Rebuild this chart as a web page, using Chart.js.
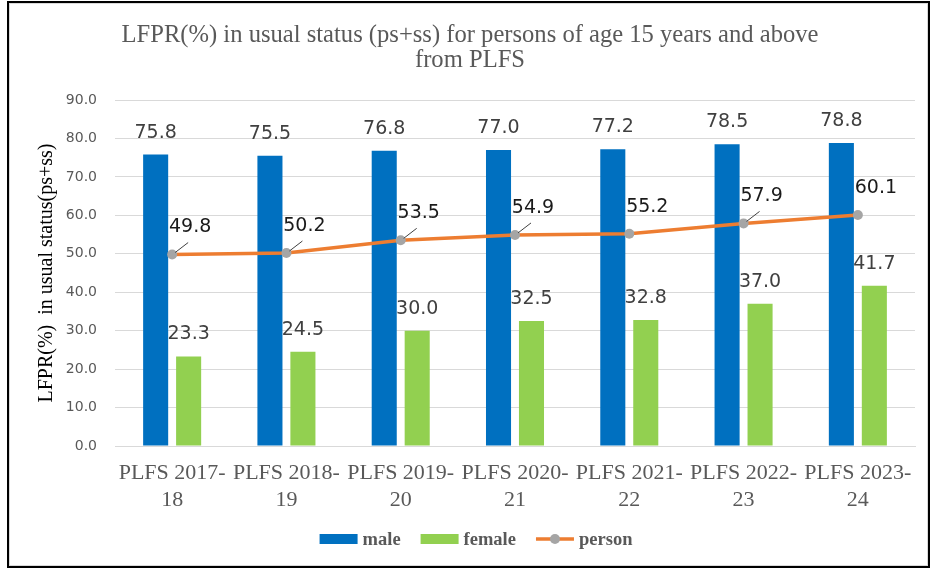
<!DOCTYPE html>
<html lang="en">
<head>
    <meta charset="UTF-8">
    <title>LFPR in usual status - PLFS</title>
    <style>
        body {
            margin: 0;
            background-color: #fff;
        }
        .wrap {
            position: relative;
            width: 933px;
            height: 570px;
        }
        .wrap canvas {
            position: absolute;
            left: 0;
            top: 0;
        }
        .frame {
            position: absolute;
            left: 7px;
            top: 1px;
            width: 923px;
            height: 567px;
            border: 2px solid #000;
            box-sizing: border-box;
            box-shadow: inset 0 0 0 1px #d9d9d9;
            pointer-events: none;
        }
    </style>
    <script src="https://cdn.jsdelivr.net/npm/chart.js"></script>
</head>
<body>
    <div class="wrap">
        <canvas id="lfprChart" width="933" height="570"></canvas>
        <div class="frame"></div>
    </div>

    <script>
        // Survey rounds (two-line tick labels)
        const categories = [
            ['PLFS 2017-', '18'],
            ['PLFS 2018-', '19'],
            ['PLFS 2019-', '20'],
            ['PLFS 2020-', '21'],
            ['PLFS 2021-', '22'],
            ['PLFS 2022-', '23'],
            ['PLFS 2023-', '24']
        ];
        const maleValues   = [75.8, 75.5, 76.8, 77.0, 77.2, 78.5, 78.8];
        const femaleValues = [23.3, 24.5, 30.0, 32.5, 32.8, 37.0, 41.7];
        const personValues = [49.8, 50.2, 53.5, 54.9, 55.2, 57.9, 60.1];

        const yMin = 0;
        const yMax = 90;
        const yStep = 10;

        const titleLines = [
            'LFPR(%) in usual status (ps+ss) for persons of age 15 years and above',
            'from PLFS'
        ];
        const yTitle = 'LFPR(%)  in usual status(ps+ss)';

        // person labels that have a small leader line in the original
        const leaderIdx = [0, 1, 2, 3, 5];

        const valueLabels = {
            id: 'valueLabels',
            afterDatasetsDraw(chart) {
                const ctx = chart.ctx;
                ctx.save();
                ctx.font = '19px "DejaVu Sans"';
                ctx.textAlign = 'center';
                ctx.textBaseline = 'middle';
                chart.data.datasets.forEach((ds, i) => {
                    const meta = chart.getDatasetMeta(i);
                    meta.data.forEach((el, j) => {
                        const txt = ds.data[j].toFixed(1);
                        if (ds.type === 'line') {
                            if (leaderIdx.includes(j)) {
                                ctx.strokeStyle = '#404040';
                                ctx.lineWidth = 1;
                                ctx.beginPath();
                                ctx.moveTo(el.x + 3, el.y - 2);
                                ctx.lineTo(el.x + 16, el.y - 12);
                                ctx.stroke();
                            }
                            ctx.fillStyle = '#1a1a1a';
                            ctx.fillText(txt, el.x + 18, el.y - 27);
                        } else {
                            ctx.fillStyle = '#404040';
                            ctx.fillText(txt, el.x, el.y - 22);
                        }
                    });
                });
                ctx.restore();
            }
        };

        // legend drawn by hand so the line item can show its marker
        const bottomLegend = {
            id: 'bottomLegend',
            afterDraw(chart) {
                const ctx = chart.ctx;
                const y = 539;
                const sym = 38, gap = 5, itemGap = 20;
                ctx.save();
                ctx.font = 'bold 18.5px "Liberation Serif"';
                ctx.textBaseline = 'middle';
                const items = chart.data.datasets.map(ds => ({
                    ds: ds,
                    w: sym + gap + ctx.measureText(ds.label).width
                }));
                const total = items.reduce((s, it) => s + it.w, 0) + itemGap * (items.length - 1);
                let x = 476 - total / 2;
                items.forEach(it => {
                    const ds = it.ds;
                    if (ds.type === 'line') {
                        ctx.strokeStyle = ds.borderColor;
                        ctx.lineWidth = 3.5;
                        ctx.beginPath();
                        ctx.moveTo(x, y);
                        ctx.lineTo(x + sym, y);
                        ctx.stroke();
                        ctx.fillStyle = ds.pointBackgroundColor;
                        ctx.beginPath();
                        ctx.arc(x + sym / 2, y, 5, 0, Math.PI * 2);
                        ctx.fill();
                    } else {
                        ctx.fillStyle = ds.backgroundColor;
                        ctx.fillRect(x, y - 5, sym, 10);
                    }
                    ctx.fillStyle = '#595959';
                    ctx.fillText(ds.label, x + sym + gap, y + 1);
                    x += it.w + itemGap;
                });
                ctx.restore();
            }
        };

        const ctx = document.getElementById('lfprChart').getContext('2d');
        new Chart(ctx, {
            type: 'bar',
            data: {
                labels: categories,
                datasets: [
                    {
                        label: 'male',
                        data: maleValues,
                        backgroundColor: '#0070C0',
                        categoryPercentage: 0.577,
                        barPercentage: 0.76,
                        order: 1
                    },
                    {
                        label: 'female',
                        data: femaleValues,
                        backgroundColor: '#92D050',
                        categoryPercentage: 0.577,
                        barPercentage: 0.76,
                        order: 1
                    },
                    {
                        type: 'line',
                        label: 'person',
                        data: personValues,
                        borderColor: '#ED7D31',
                        borderWidth: 3.5,
                        pointRadius: 5,
                        pointBackgroundColor: '#A5A5A5',
                        pointBorderColor: '#A5A5A5',
                        pointBorderWidth: 0,
                        tension: 0,
                        order: -1
                    }
                ]
            },
            options: {
                responsive: false,
                animation: false,
                layout: {
                    padding: { left: 25, right: 18, top: 0, bottom: 0 }
                },
                plugins: {
                    legend: { display: false },
                    tooltip: { enabled: false },
                    title: {
                        display: true,
                        text: titleLines,
                        color: '#595959',
                        font: { family: 'Liberation Serif', size: 24.6, weight: 'normal', lineHeight: 25 / 24.6 },
                        padding: { top: 23.5, bottom: 26.5 }
                    }
                },
                scales: {
                    x: {
                        grid: { display: false },
                        border: { color: '#d9d9d9' },
                        ticks: {
                            color: '#595959',
                            font: { family: 'Liberation Serif', size: 22, lineHeight: 27 / 22 },
                            padding: 6,
                            maxRotation: 0,
                            autoSkip: false
                        },
                        afterFit(scale) { scale.height = 124; }
                    },
                    y: {
                        min: yMin,
                        max: yMax,
                        ticks: {
                            stepSize: yStep,
                            callback: v => v.toFixed(1),
                            color: '#595959',
                            font: { family: 'DejaVu Sans', size: 14 },
                            padding: 18
                        },
                        grid: { color: '#d9d9d9', drawTicks: false },
                        border: { display: false },
                        title: {
                            display: true,
                            text: yTitle,
                            color: '#000',
                            font: { family: 'Liberation Serif', size: 20 },
                            padding: { top: 10, bottom: 0 }
                        },
                        afterFit(scale) { scale.width = 90; }
                    }
                }
            },
            plugins: [valueLabels, bottomLegend]
        });
    </script>
</body>
</html>
